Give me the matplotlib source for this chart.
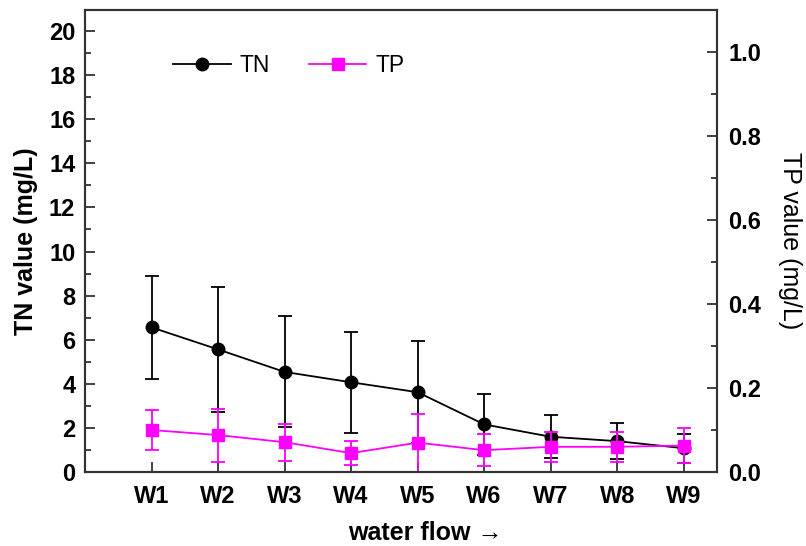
import matplotlib.pyplot as plt
from matplotlib.ticker import MultipleLocator
from matplotlib.lines import Line2D
import numpy as np

plt.rcParams['font.family'] = ['Liberation Sans', 'DejaVu Sans']

# data
sites = ['W1', 'W2', 'W3', 'W4', 'W5', 'W6', 'W7', 'W8', 'W9']
tn = [6.56, 5.56, 4.54, 4.07, 3.62, 2.16, 1.60, 1.40, 1.08]
tn_err = [2.35, 2.84, 2.52, 2.30, 2.32, 1.39, 0.98, 0.83, 0.65]
tp = [0.100, 0.088, 0.071, 0.045, 0.070, 0.052, 0.060, 0.060, 0.063]
tp_err = [0.047, 0.063, 0.044, 0.028, 0.069, 0.038, 0.036, 0.035, 0.041]

x = np.arange(1, len(sites) + 1)
spine_col = '#333333'
tp_col = '#ff00ff'

fig = plt.figure(figsize=(8.06, 5.46), dpi=100)
ax = fig.add_axes([0.1055, 0.1355, 0.784, 0.846])
ax2 = ax.twinx()

# TN on left axis
ax.errorbar(x, tn, yerr=tn_err, color='black', marker='o', markersize=9,
            linewidth=1.3, elinewidth=1.3, capsize=5, capthick=1.3)
# TP on right axis
ax2.errorbar(x, tp, yerr=tp_err, color=tp_col, marker='s', markersize=8.5,
             linewidth=1.3, elinewidth=1.3, capsize=5, capthick=1.3)

ax.set_xlim(0, 9.5)
ax.set_ylim(0, 20.95)
ax2.set_ylim(0, 1.1)

ax.set_xticks(x)
ax.set_xticklabels(sites, fontsize=17, fontweight='bold')
ax.yaxis.set_major_locator(MultipleLocator(2))
ax.yaxis.set_minor_locator(MultipleLocator(1))
ax2.yaxis.set_minor_locator(MultipleLocator(0.1))
ax2.set_yticks([0, 0.2, 0.4, 0.6, 0.8, 1.0])
ax2.set_yticklabels(['0.0', '0.2', '0.4', '0.6', '0.8', '1.0'])

for lab in ax.get_yticklabels() + ax2.get_yticklabels():
    lab.set_fontsize(17)
    lab.set_fontweight('bold')

ax.tick_params(axis='y', which='major', direction='in', length=7, width=1.3, color=spine_col, pad=7)
ax.tick_params(axis='y', which='minor', direction='in', length=4, width=1.3, color=spine_col)
ax.tick_params(axis='x', which='major', direction='in', length=7, width=1.3, color=spine_col, pad=9)
ax2.tick_params(axis='y', which='major', direction='in', length=7, width=1.3, color=spine_col, pad=8)
ax2.tick_params(axis='y', which='minor', direction='in', length=4, width=1.3, color=spine_col)

for a in (ax, ax2):
    for s in a.spines.values():
        s.set_color(spine_col)
        s.set_linewidth(1.5)

ax.set_ylabel('TN value (mg/L)', fontsize=18, fontweight='bold', labelpad=8)
ax2.set_ylabel('TP value (mg/L)', fontsize=18, rotation=270, va='bottom', labelpad=12)
ax.set_xlabel('water flow →', fontsize=18, fontweight='bold')
ax.xaxis.set_label_coords(0.538, -0.105)

# legend shows line + marker only
h1 = Line2D([], [], color='black', marker='o', markersize=9, linewidth=1.3)
h2 = Line2D([], [], color=tp_col, marker='s', markersize=8.5, linewidth=1.3)
ax2.legend([h1, h2], ['TN', 'TP'], loc='upper left', bbox_to_anchor=(0.107, 0.95),
           ncol=2, frameon=False, fontsize=16.5, handlelength=2.5, columnspacing=1.7,
           handletextpad=0.4)

fig.savefig('out.png', dpi=100)
